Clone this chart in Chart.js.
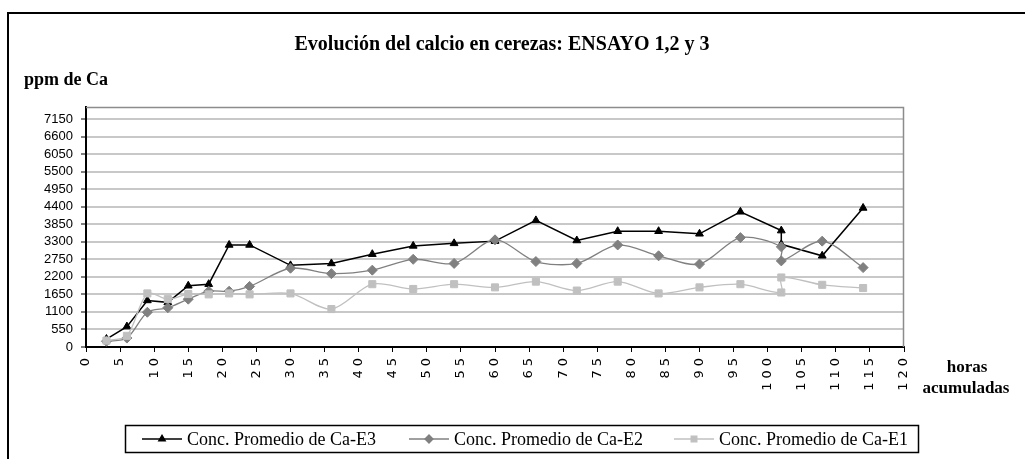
<!DOCTYPE html>
<html><head><meta charset="utf-8">
<script src="https://cdn.jsdelivr.net/npm/chart.js@4/dist/chart.umd.min.js"></script>
<style>html,body{margin:0;padding:0;background:#fff}#wrap{width:1025px;height:459px;position:relative}canvas{display:block}</style>
</head><body><div id="wrap"><canvas id="c" width="1025" height="459"></canvas></div>
<script>
// ---- data ----
const hours = [3,6,9,12,15,18,21,24,30,36,42,48,54,60,66,72,78,84,90,96,102,102,108,114];
const caE3 = [250,640,1460,1400,1920,1970,3200,3200,2560,2620,2910,3170,3250,3320,3970,3340,3630,3630,3550,4240,3650,3220,2860,4360];
const caE2 = [180,280,1090,1230,1500,1750,1750,1900,2470,2300,2410,2750,2620,3360,2680,2620,3200,2860,2600,3430,3140,2700,3320,2490];
const caE1 = [200,350,1680,1500,1660,1650,1680,1650,1680,1190,1970,1820,1970,1870,2050,1770,2050,1680,1870,1970,1710,2180,1950,1850];
const xTicks = [0,5,10,15,20,25,30,35,40,45,50,55,60,65,70,75,80,85,90,95,100,105,110,115,120];
const yTicks = [0,550,1100,1650,2200,2750,3300,3850,4400,4950,5500,6050,6600,7150];
const seriesNames = ['Conc. Promedio de Ca-E3','Conc. Promedio de Ca-E2','Conc. Promedio de Ca-E1'];
const titleText = 'Evolución del calcio en cerezas: ENSAYO 1,2 y 3';
const yTitleText = 'ppm de Ca';
const xTitleLines = ['horas','acumuladas'];

const pts = arr => hours.map((h,i)=>({x:h,y:arr[i]}));

class SpacedLinear extends Chart.LinearScale {
  drawLabels(area){ const c=this.ctx; c.save(); c.letterSpacing='4px'; super.drawLabels(area); c.restore(); }
}
SpacedLinear.id='spacedLinear';
SpacedLinear.defaults=Chart.LinearScale.defaults;
Chart.register(SpacedLinear);

const decor = {
  id:'decor',
  beforeDatasetsDraw(chart){
    const {ctx, chartArea:a} = chart;
    ctx.save();
    ctx.strokeStyle='#8c8c8c'; ctx.lineWidth=1.5;
    ctx.beginPath(); ctx.moveTo(a.left,a.top+0.5); ctx.lineTo(a.right-0.5,a.top+0.5); ctx.lineTo(a.right-0.5,a.bottom); ctx.stroke();
    ctx.restore();
  },
  afterDraw(chart){
    const ctx = chart.ctx;
    ctx.save();
    // outer frame
    ctx.strokeStyle='#000'; ctx.lineWidth=2;
    ctx.beginPath(); ctx.moveTo(8,459); ctx.lineTo(8,13); ctx.lineTo(1025,13); ctx.stroke();
    ctx.fillStyle='#000'; ctx.textBaseline='middle';
    // title
    ctx.font='bold 20px "Liberation Serif", serif'; ctx.textAlign='center';
    ctx.fillText(titleText, 502, 45);
    // y title
    ctx.font='bold 18px "Liberation Serif", serif'; ctx.textAlign='left';
    ctx.fillText(yTitleText, 24, 80);
    // x title
    ctx.font='bold 17px "Liberation Serif", serif'; ctx.textAlign='center';
    ctx.fillText(xTitleLines[0], 967, 368);
    ctx.fillText(xTitleLines[1], 966, 389);
    // legend
    ctx.strokeStyle='#000'; ctx.lineWidth=1.5;
    ctx.strokeRect(125.5,425.5,793,27);
    ctx.font='18px "Liberation Serif", serif'; ctx.textAlign='left';
    const starts=[142,409,674];
    chart.data.datasets.forEach((ds,i)=>{
      const x0=starts[i], y=439;
      ctx.strokeStyle=ds.borderColor; ctx.lineWidth=ds.borderWidth;
      ctx.beginPath(); ctx.moveTo(x0,y); ctx.lineTo(x0+40,y); ctx.stroke();
      ctx.fillStyle=ds.pointBackgroundColor; ctx.strokeStyle=ds.pointBorderColor;
      Chart.helpers.drawPoint(ctx,{pointStyle:ds.pointStyle,radius:ds.pointRadius*0.8,rotation:0,borderWidth:1},x0+20,y);
      ctx.fillStyle='#000';
      ctx.fillText(ds.label, x0+45, y+1);
    });
    ctx.restore();
  }
};

new Chart(document.getElementById('c'), {
  type:'line',
  data:{ datasets:[
    {label:seriesNames[0], data:pts(caE3), order:2, borderColor:'#000', borderWidth:1.5, tension:0,
     pointStyle:'triangle', pointRadius:4.5, pointBackgroundColor:'#000', pointBorderColor:'#000', pointBorderWidth:1},
    {label:seriesNames[1], data:pts(caE2), order:1, borderColor:'#808080', borderWidth:1.3, tension:0.3,
     pointStyle:'rectRot', pointRadius:5, pointBackgroundColor:'#808080', pointBorderColor:'#808080', pointBorderWidth:1},
    {label:seriesNames[2], data:pts(caE1), order:0, borderColor:'#c0c0c0', borderWidth:1.3, tension:0.3,
     pointStyle:'rect', pointRadius:5, pointBackgroundColor:'#c0c0c0', pointBorderColor:'#c0c0c0', pointBorderWidth:1}
  ]},
  options:{
    responsive:false, animation:false, devicePixelRatio:1,
    layout:{padding:{left:0, top:107, right:121, bottom:62}},
    plugins:{legend:{display:false}, title:{display:false}, tooltip:{enabled:false}},
    scales:{
      x:{type:'spacedLinear', min:0, max:120,
        afterBuildTicks:s=>{s.ticks=xTicks.map(v=>({value:v}));},
        afterFit:s=>{s.height=50;},
        ticks:{autoSkip:false, minRotation:90, maxRotation:90, padding:2, color:'#000',
          callback:v=>String(v),
          font:{family:'"DejaVu Sans", sans-serif', size:13}},
        grid:{drawOnChartArea:false, drawTicks:true, tickLength:5, tickColor:'#000', tickWidth:1},
        border:{color:'#000', width:2}},
      y:{type:'linear', min:0, max:7526,
        afterBuildTicks:s=>{s.ticks=yTicks.map(v=>({value:v}));},
        afterFit:s=>{s.width=86;},
        ticks:{autoSkip:false, padding:8, color:'#000', callback:v=>String(v),
          font:{family:'"Liberation Sans Narrow", "Liberation Sans", sans-serif', size:13}},
        grid:{color:'#c8c8c8', lineWidth:2, tickLength:5, tickColor:'#000', tickWidth:1},
        border:{color:'#000', width:2}}
    }
  },
  plugins:[decor]
});
</script></body></html>
